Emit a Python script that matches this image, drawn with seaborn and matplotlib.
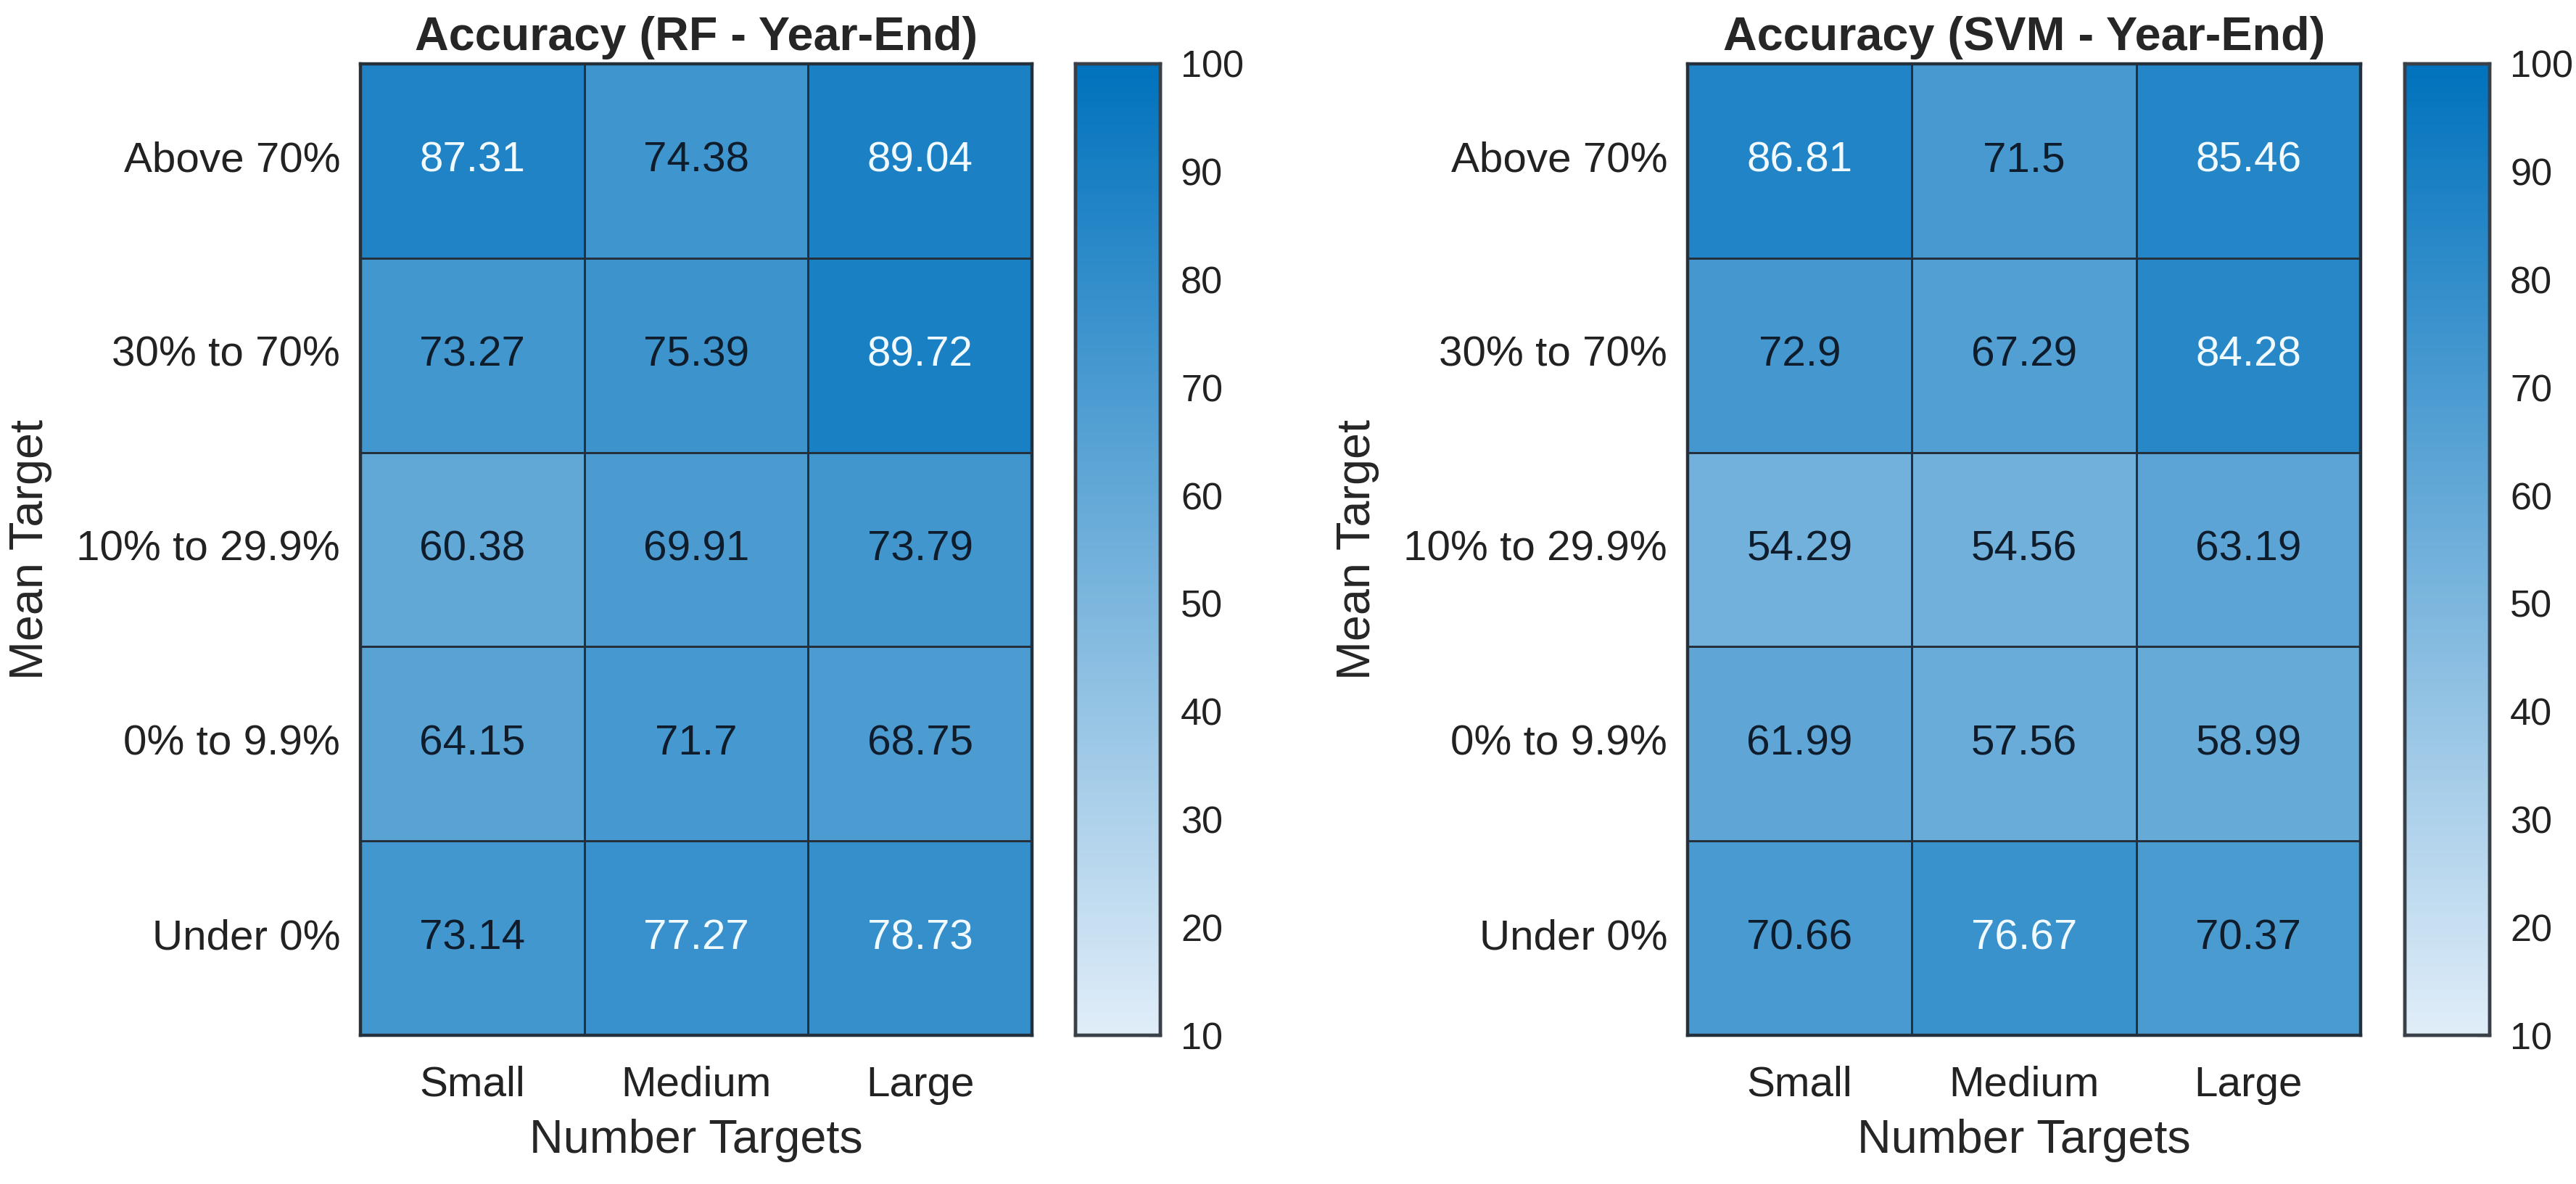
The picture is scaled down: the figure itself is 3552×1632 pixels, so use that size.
import numpy as np
import matplotlib
matplotlib.use("Agg")
import matplotlib.pyplot as plt
from matplotlib.colors import LinearSegmentedColormap
import pandas as pd
import seaborn as sns

# data
mean_target = ["Above 70%", "30% to 70%", "10% to 29.9%", "0% to 9.9%", "Under 0%"]
num_targets = ["Small", "Medium", "Large"]

rf_acc = [
    [87.31, 74.38, 89.04],
    [73.27, 75.39, 89.72],
    [60.38, 69.91, 73.79],
    [64.15, 71.7, 68.75],
    [73.14, 77.27, 78.73],
]
svm_acc = [
    [86.81, 71.5, 85.46],
    [72.9, 67.29, 84.28],
    [54.29, 54.56, 63.19],
    [61.99, 57.56, 58.99],
    [70.66, 76.67, 70.37],
]
titles = ["Accuracy (RF - Year-End)", "Accuracy (SVM - Year-End)"]
cbar_ticks = list(range(10, 101, 10))

sns.set_style("white")
plt.rcParams["font.family"] = ["Liberation Sans", "DejaVu Sans"]

cmap = LinearSegmentedColormap.from_list("matblue", ["#E0EDF8", "#0072BD"])

fig = plt.figure(figsize=(17.76, 8.16), dpi=200)

# axes positions (fractions of figure)
hm_pos = [[0.1399, 0.1256, 0.2607, 0.8205], [0.6551, 0.1256, 0.2613, 0.8205]]
cb_pos = [[0.4175, 0.1256, 0.0330, 0.8205], [0.9336, 0.1256, 0.0330, 0.8205]]

TICK_FS = 21
CBAR_FS = 18.8
LABEL_FS = 23.3


def draw_heatmap(values, title, hpos, cpos):
    ax = fig.add_axes(hpos)
    cax = fig.add_axes(cpos)
    df = pd.DataFrame(values, index=mean_target, columns=num_targets)
    sns.heatmap(df, ax=ax, cbar_ax=cax, cmap=cmap, vmin=10, vmax=100,
                annot=True, fmt="g", annot_kws={"fontsize": TICK_FS},
                linewidths=0.9, linecolor="#24303c")
    # text colour switches to white on darker cells
    for txt in ax.texts:
        v = float(txt.get_text())
        txt.set_color("#F0FAFF" if v >= 76 else "#0f1c2b")

    for sp in ax.spines.values():
        sp.set_visible(True)
        sp.set_color("#24303c")
        sp.set_linewidth(1.6)

    ax.set_title(title, fontsize=LABEL_FS, fontweight="bold", pad=7)
    ax.set_xlabel("Number Targets", fontsize=LABEL_FS, labelpad=7)
    ax.set_ylabel("Mean Target", fontsize=LABEL_FS, labelpad=12)
    ax.tick_params(axis="both", length=0, labelsize=TICK_FS, colors="#222222")
    ax.tick_params(axis="x", pad=15)
    ax.tick_params(axis="y", pad=10)
    ax.set_yticklabels(mean_target, rotation=0)
    ax.set_xticklabels(num_targets, rotation=0)

    cax.set_yticks(cbar_ticks)
    cax.tick_params(direction="in", length=6, width=1.2, color="#24303c",
                    labelsize=CBAR_FS, pad=10, labelcolor="#222222")
    for sp in cax.spines.values():
        sp.set_visible(True)
        sp.set_color("#3a4047")
        sp.set_linewidth(1.6)


for vals, ttl, hp, cp in zip([rf_acc, svm_acc], titles, hm_pos, cb_pos):
    draw_heatmap(vals, ttl, hp, cp)

fig.savefig("out.png", dpi=200, facecolor="white")
